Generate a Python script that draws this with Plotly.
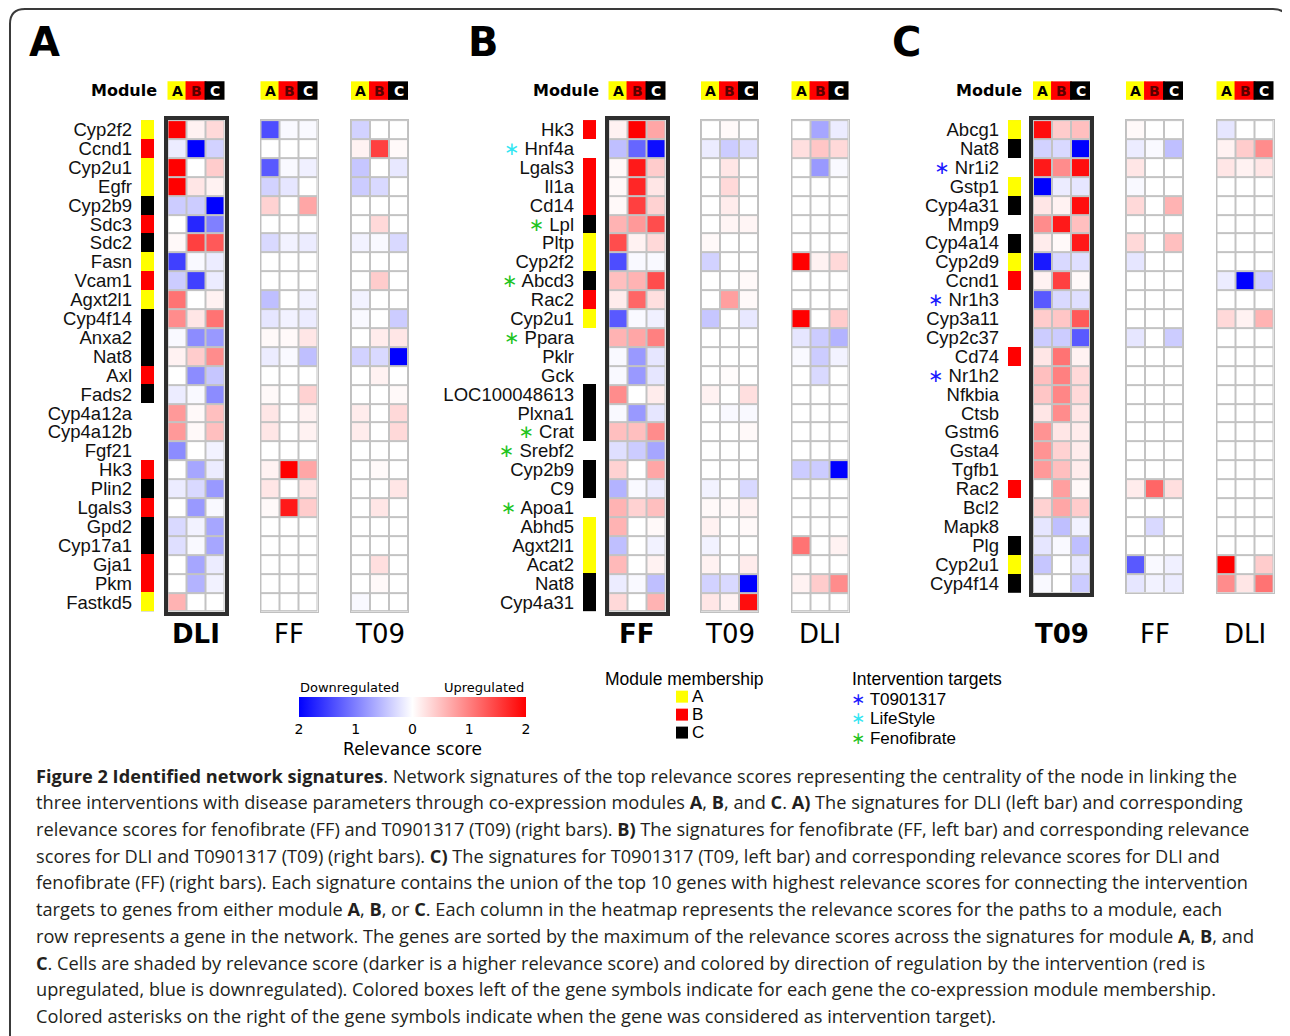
import plotly.graph_objects as go

# page body has an 8px margin; the figure is sized/shifted to compensate
OFF = 8
W, H = 1282, 1028
def px(x): return (x - OFF) / W
def py(y): return 1 - (y - OFF) / H

COLS = ['A', 'B', 'C']

genes_A = ['Cyp2f2', 'Ccnd1', 'Cyp2u1', 'Egfr', 'Cyp2b9', 'Sdc3', 'Sdc2', 'Fasn', 'Vcam1', 'Agxt2l1',
           'Cyp4f14', 'Anxa2', 'Nat8', 'Axl', 'Fads2', 'Cyp4a12a', 'Cyp4a12b', 'Fgf21', 'Hk3', 'Plin2',
           'Lgals3', 'Gpd2', 'Cyp17a1', 'Gja1', 'Pkm', 'Fastkd5']
genes_B = ['Hk3', 'Hnf4a', 'Lgals3', 'Il1a', 'Cd14', 'Lpl', 'Pltp', 'Cyp2f2', 'Abcd3', 'Rac2',
           'Cyp2u1', 'Ppara', 'Pklr', 'Gck', 'LOC100048613', 'Plxna1', 'Crat', 'Srebf2', 'Cyp2b9', 'C9',
           'Apoa1', 'Abhd5', 'Agxt2l1', 'Acat2', 'Nat8', 'Cyp4a31']
genes_C = ['Abcg1', 'Nat8', 'Nr1i2', 'Gstp1', 'Cyp4a31', 'Mmp9', 'Cyp4a14', 'Cyp2d9', 'Ccnd1', 'Nr1h3',
           'Cyp3a11', 'Cyp2c37', 'Cd74', 'Nr1h2', 'Nfkbia', 'Ctsb', 'Gstm6', 'Gsta4', 'Tgfb1', 'Rac2',
           'Bcl2', 'Mapk8', 'Plg', 'Cyp2u1', 'Cyp4f14']

module_of = {
    'Cyp2f2': 'A', 'Ccnd1': 'B', 'Cyp2u1': 'A', 'Egfr': 'A', 'Cyp2b9': 'C', 'Sdc3': 'B', 'Sdc2': 'C',
    'Fasn': 'A', 'Vcam1': 'B', 'Agxt2l1': 'A', 'Cyp4f14': 'C', 'Anxa2': 'C', 'Nat8': 'C', 'Axl': 'B',
    'Fads2': 'C', 'Hk3': 'B', 'Plin2': 'C', 'Lgals3': 'B', 'Gpd2': 'C', 'Cyp17a1': 'C', 'Gja1': 'B',
    'Pkm': 'B', 'Fastkd5': 'A', 'Il1a': 'B', 'Cd14': 'B', 'Lpl': 'C', 'Pltp': 'A', 'Abcd3': 'C',
    'Rac2': 'B', 'LOC100048613': 'C', 'Plxna1': 'C', 'Crat': 'C', 'C9': 'C', 'Abhd5': 'A',
    'Acat2': 'A', 'Cyp4a31': 'C', 'Abcg1': 'A', 'Gstp1': 'A', 'Cyp4a14': 'C', 'Cyp2d9': 'A',
    'Cd74': 'B', 'Plg': 'C',
}

target_of = {
    'Hnf4a': 'LifeStyle', 'Lpl': 'Fenofibrate', 'Abcd3': 'Fenofibrate', 'Ppara': 'Fenofibrate',
    'Crat': 'Fenofibrate', 'Srebf2': 'Fenofibrate', 'Apoa1': 'Fenofibrate',
    'Nr1i2': 'T0901317', 'Nr1h3': 'T0901317', 'Nr1h2': 'T0901317',
}

# relevance scores (signed: + upregulated, - downregulated) for modules A, B, C
DLI = {
    'Cyp2f2': (2, 0.1, 0.3), 'Ccnd1': (-0.15, -2, -0.35), 'Cyp2u1': (2, 0, 0.4), 'Egfr': (2, 0.2, 0.1),
    'Cyp2b9': (-0.4, -0.4, -2), 'Sdc3': (0, -1.7, -1.0), 'Sdc2': (0.05, 1.5, 1.3), 'Fasn': (-1.5, -0.05, -0.15),
    'Vcam1': (-0.4, -1.5, -0.15), 'Agxt2l1': (1.1, 0, 0.1), 'Cyp4f14': (0.9, 0.2, 1.1), 'Anxa2': (-0.05, -0.9, -0.8),
    'Nat8': (0.1, 0.4, 0.9), 'Axl': (0, -0.9, -0.45), 'Fads2': (-0.15, -0.05, -0.9), 'Cyp4a12a': (0.8, 0.05, 0.5),
    'Cyp4a12b': (0.8, 0.05, 0.5), 'Fgf21': (-0.9, 0, -0.1), 'Hk3': (0, -0.7, -0.15), 'Plin2': (-0.15, -0.3, -0.8),
    'Lgals3': (0, -0.8, -0.05), 'Gpd2': (-0.3, -0.1, -0.7), 'Cyp17a1': (-0.25, -0.05, -0.7), 'Gja1': (0, -0.7, -0.15),
    'Pkm': (0, -0.6, -0.1), 'Fastkd5': (0.6, 0, 0), 'Hnf4a': (0.25, 0.45, 0.3), 'Il1a': (0, 0, 0), 'Cd14': (0, 0, 0),
    'Lpl': (0, 0, 0), 'Pltp': (0, 0, 0), 'Abcd3': (0, 0, 0), 'Rac2': (0, 0, 0), 'Ppara': (-0.2, -0.4, -0.6),
    'Pklr': (-0.05, -0.4, -0.1), 'Gck': (0, -0.3, 0), 'LOC100048613': (0, 0, 0), 'Plxna1': (0, 0, 0), 'Crat': (0, 0, 0),
    'Srebf2': (0, 0, 0), 'C9': (0, 0, 0), 'Apoa1': (0, 0, 0), 'Abhd5': (0, 0, 0), 'Acat2': (0, 0, 0),
    'Cyp4a31': (0, 0, 0), 'Abcg1': (-0.2, 0, 0), 'Nr1i2': (0.2, 0.1, 0.2), 'Gstp1': (0, 0, 0), 'Mmp9': (0, 0, 0),
    'Cyp4a14': (0, 0, 0), 'Cyp2d9': (0, 0, 0), 'Nr1h3': (0, 0, 0), 'Cyp3a11': (0.3, 0.1, 0.6), 'Cyp2c37': (0, 0, 0),
    'Cd74': (0, 0, 0), 'Nr1h2': (0, 0, 0), 'Nfkbia': (0, 0, 0), 'Ctsb': (0, 0, 0), 'Gstm6': (0, 0, 0),
    'Gsta4': (0, 0, 0), 'Tgfb1': (0, 0, 0), 'Bcl2': (0, 0, 0), 'Mapk8': (0, 0, 0), 'Plg': (0, 0, 0),
}
FF = {
    'Cyp2f2': (-1.4, -0.05, -0.05), 'Ccnd1': (0, 0, 0), 'Cyp2u1': (-1.3, -0.05, -0.12), 'Egfr': (-0.35, -0.2, 0),
    'Cyp2b9': (0.35, 0, 0.7), 'Sdc3': (0, 0, 0), 'Sdc2': (-0.3, -0.1, -0.15), 'Fasn': (0, 0, 0), 'Vcam1': (0, 0, 0),
    'Agxt2l1': (-0.5, 0, -0.1), 'Cyp4f14': (-0.2, -0.1, -0.15), 'Anxa2': (0.05, 0.05, 0.2), 'Nat8': (-0.15, -0.05, -0.5),
    'Axl': (0, 0, 0), 'Fads2': (0.05, 0, 0.35), 'Cyp4a12a': (0.2, 0, 0.1), 'Cyp4a12b': (0.2, 0, 0.1), 'Fgf21': (0, 0, 0),
    'Hk3': (0.1, 2, 0.7), 'Plin2': (0.2, 0, 0.2), 'Lgals3': (0.05, 1.8, 0.4), 'Gpd2': (0, 0, 0), 'Cyp17a1': (0, 0, 0),
    'Gja1': (0, 0, 0), 'Pkm': (0, 0, 0), 'Fastkd5': (0, 0, 0), 'Hnf4a': (-0.5, -1.2, -1.9), 'Il1a': (0.05, 1.7, 0.2),
    'Cd14': (0.05, 1.5, 0.35), 'Lpl': (0.6, 0.8, 1.4), 'Pltp': (1.4, 0.1, 0.3), 'Abcd3': (0.5, 0.6, 1.4),
    'Rac2': (0.15, 1.2, 0.25), 'Ppara': (0.6, 0.7, 1.0), 'Pklr': (-0.05, -0.8, -0.2), 'Gck': (-0.05, -0.8, -0.2),
    'LOC100048613': (0.9, 0, 0.15), 'Plxna1': (-0.05, -0.8, -0.2), 'Crat': (0.5, 0.5, 0.9), 'Srebf2': (-0.25, -0.4, -0.7),
    'C9': (-0.6, -0.05, -0.15), 'Apoa1': (0.6, 0.35, 0.5), 'Abhd5': (0.6, 0, 0.05), 'Acat2': (0.55, 0, 0.1),
    'Cyp4a31': (0.3, 0, 0.6), 'Abcg1': (0.05, 0, 0), 'Nr1i2': (0.2, 0, 0), 'Gstp1': (-0.05, 0, 0), 'Mmp9': (0, 0, 0),
    'Cyp4a14': (0.3, 0, 0.5), 'Cyp2d9': (-0.2, 0, 0), 'Nr1h3': (0, 0, 0), 'Cyp3a11': (0, 0, 0),
    'Cyp2c37': (-0.2, 0, -0.4), 'Cd74': (0, 0, 0), 'Nr1h2': (0, 0, 0), 'Nfkbia': (0, 0, 0), 'Ctsb': (0, 0, 0),
    'Gstm6': (0, 0, 0), 'Gsta4': (0, 0, 0), 'Tgfb1': (0, 0, 0), 'Bcl2': (0, 0, 0), 'Mapk8': (0, -0.3, 0), 'Plg': (0, 0, 0),
}
T09 = {
    'Cyp2f2': (-0.35, 0, 0), 'Ccnd1': (0.1, 1.5, 0.05), 'Cyp2u1': (-0.45, 0, -0.18), 'Egfr': (-0.4, -0.3, 0),
    'Cyp2b9': (0, 0, 0), 'Sdc3': (0, 0.3, 0), 'Sdc2': (-0.1, -0.05, -0.3), 'Fasn': (0, 0, 0), 'Vcam1': (0, 0.4, 0),
    'Agxt2l1': (-0.1, 0, 0), 'Cyp4f14': (-0.05, 0, -0.4), 'Anxa2': (0, 0.15, 0.2), 'Nat8': (-0.35, -0.3, -2),
    'Axl': (0, 0.1, 0), 'Fads2': (0, 0, 0.05), 'Cyp4a12a': (0.15, 0, 0.3), 'Cyp4a12b': (0.15, 0, 0.3),
    'Fgf21': (0, 0, 0), 'Hk3': (0, 0.05, 0), 'Plin2': (0, 0, 0.2), 'Lgals3': (0, 0.2, 0), 'Gpd2': (0, 0, 0),
    'Cyp17a1': (0, 0, 0), 'Gja1': (0, 0.25, 0), 'Pkm': (0, 0.05, 0), 'Fastkd5': (-0.05, 0, 0),
    'Hnf4a': (-0.15, -0.4, -0.25), 'Il1a': (0, 0.3, 0), 'Cd14': (0, 0.15, 0), 'Lpl': (0, 0.08, 0.08),
    'Pltp': (0.05, 0, 0), 'Abcd3': (0, 0, 0.05), 'Rac2': (0, 0.75, 0.05), 'Ppara': (0, 0, 0), 'Pklr': (0, 0, 0),
    'Gck': (0, 0.02, 0), 'LOC100048613': (0.1, 0, 0.25), 'Plxna1': (0, -0.05, -0.05), 'Crat': (0, 0, 0.05),
    'Srebf2': (0, 0, 0), 'C9': (-0.1, 0, -0.3), 'Apoa1': (0.05, 0.05, 0.1), 'Abhd5': (0.1, 0, 0.05),
    'Acat2': (0.1, 0, 0.15), 'Cyp4a31': (0.2, 0.1, 1.9), 'Abcg1': (1.9, 0.4, 0.5), 'Nr1i2': (1.8, 0.9, 1.9),
    'Gstp1': (-2, -0.15, -0.2), 'Mmp9': (0.9, 1.8, 0.5), 'Cyp4a14': (0.15, 0.05, 1.8), 'Cyp2d9': (-1.8, -0.3, -0.25),
    'Nr1h3': (-1.3, -0.3, -0.25), 'Cyp3a11': (0.4, 0.45, 1.3), 'Cyp2c37': (-0.4, -0.4, -1.3), 'Cd74': (0.2, 1.1, 0.1),
    'Nr1h2': (0.5, 1.0, 0.3), 'Nfkbia': (0.45, 0.95, 0.3), 'Ctsb': (0.2, 0.9, 0.2), 'Gstm6': (0.85, 0.2, 0.15),
    'Gsta4': (0.85, 0.35, 0.15), 'Tgfb1': (0.8, 0.5, 0.15), 'Bcl2': (0.35, 0.7, 0.4), 'Mapk8': (-0.2, -0.5, -0.1),
    'Plg': (-0.2, -0.05, -0.5),
}

colorbar_ticks = [-2, -1, 0, 1, 2]
colorbar_ticktext = ['2', '1', '0', '1', '2']

caption_lines = [
    "<b>Figure 2 Identified network signatures</b>. Network signatures of the top relevance scores representing the centrality of the node in linking the",
    "three interventions with disease parameters through co-expression modules <b>A</b>, <b>B</b>, and <b>C</b>. <b>A)</b> The signatures for DLI (left bar) and corresponding",
    "relevance scores for fenofibrate (FF) and T0901317 (T09) (right bars). <b>B)</b> The signatures for fenofibrate (FF, left bar) and corresponding relevance",
    "scores for DLI and T0901317 (T09) (right bars). <b>C)</b> The signatures for T0901317 (T09, left bar) and corresponding relevance scores for DLI and",
    "fenofibrate (FF) (right bars). Each signature contains the union of the top 10 genes with highest relevance scores for connecting the intervention",
    "targets to genes from either module <b>A</b>, <b>B</b>, or <b>C</b>. Each column in the heatmap represents the relevance scores for the paths to a module, each",
    "row represents a gene in the network. The genes are sorted by the maximum of the relevance scores across the signatures for module <b>A</b>, <b>B</b>, and",
    "<b>C</b>. Cells are shaded by relevance score (darker is a higher relevance score) and colored by direction of regulation by the intervention (red is",
    "upregulated, blue is downregulated). Colored boxes left of the gene symbols indicate for each gene the co-expression module membership.",
    "Colored asterisks on the right of the gene symbols indicate when the gene was considered as intervention target).",
]

# ---------------- styling / layout ----------------
MOD_COLOR = {'A': '#ffff00', 'B': '#ff0000', 'C': '#000000'}
MOD_CODE = {'': 0, 'A': 1, 'B': 2, 'C': 3}
TARGET_COLOR = {'T0901317': '#1a1aff', 'LifeStyle': '#33e6f2', 'Fenofibrate': '#1fc41f'}
HEAT_CS = [[0, '#0000ff'], [0.5, '#ffffff'], [1, '#ff0000']]
MOD_CS = [[0, '#ffffff'], [0.25, '#ffffff'], [0.25, '#ffff00'], [0.5, '#ffff00'],
          [0.5, '#ff0000'], [0.75, '#ff0000'], [0.75, '#000000'], [1, '#000000']]

ROW_TOP = 119.3
ROW_H = 18.94
LABEL_FONT = dict(family='Liberation Sans, Arial', size=18.5, color='#111')
STAR = "<span style='color:%s;font-family:DejaVu Sans'>\u2217</span>"

panels = [
    dict(letter='A', letter_x=27, genes=genes_A, bar=(141, 154), module_right=159,
         heats=[('DLI', DLI, (167.5, 224.5)), ('FF', FF, (260.5, 317.5)), ('T09', T09, (351, 408))]),
    dict(letter='B', letter_x=466, genes=genes_B, bar=(583, 596), module_right=601,
         heats=[('FF', FF, (608.5, 665.5)), ('T09', T09, (701, 758)), ('DLI', DLI, (791.5, 848.5))]),
    dict(letter='C', letter_x=890, genes=genes_C, bar=(1008, 1021), module_right=1024,
         heats=[('T09', T09, (1033, 1090)), ('FF', FF, (1126, 1183)), ('DLI', DLI, (1216.5, 1273.5))]),
]

fig = go.Figure()
layout = {}
shapes = []
annotations = []

def label_for(g):
    t = target_of.get(g)
    if t:
        return (STAR % TARGET_COLOR[t]) + ' ' + g
    return g

k = 0
first_heat = True
for p in panels:
    genes = p['genes']
    n = len(genes)
    y0 = ROW_TOP
    y1 = ROW_TOP + n * ROW_H
    ydom = [py(y1), py(y0)]
    # module membership bar
    k += 1
    xa = 'x' if k == 1 else 'x%d' % k
    ya = 'y' if k == 1 else 'y%d' % k
    fig.add_trace(go.Heatmap(
        z=[[MOD_CODE[module_of.get(g, '')]] for g in genes], x=['m'], y=genes,
        colorscale=MOD_CS, zmin=-0.5, zmax=3.5, showscale=False, hoverinfo='skip',
        xaxis=xa, yaxis=ya))
    layout['xaxis' if k == 1 else 'xaxis%d' % k] = dict(
        domain=[px(p['bar'][0]), px(p['bar'][1])], anchor=ya, showticklabels=False,
        showgrid=False, zeroline=False, showline=False, fixedrange=True)
    layout['yaxis' if k == 1 else 'yaxis%d' % k] = dict(
        domain=ydom, anchor=xa, range=[n - 0.5, -0.5], tickmode='array', tickvals=genes,
        ticktext=[label_for(g) for g in genes], ticks='', ticklen=0, ticklabelstandoff=8,
        tickfont=LABEL_FONT, showgrid=False, zeroline=False, showline=False, fixedrange=True)

    # "Module" header
    annotations.append(dict(text='<b>Module</b>', x=px(p['module_right']), y=py(90), xref='paper', yref='paper',
                            xanchor='right', yanchor='middle', showarrow=False,
                            font=dict(family='DejaVu Sans', size=16, color='#000')))
    # panel letter
    annotations.append(dict(text='<b>%s</b>' % p['letter'], x=px(p['letter_x']), y=py(41), xref='paper',
                            yref='paper', xanchor='left', yanchor='middle', showarrow=False,
                            font=dict(family='DejaVu Sans', size=40, color='#000')))

    for i, (name, data, (xl, xr)) in enumerate(p['heats']):
        k += 1
        xa = 'x%d' % k
        ya = 'y%d' % k
        bold = (i == 0)
        fig.add_trace(go.Heatmap(
            z=[list(data[g]) for g in genes], x=COLS, y=genes, colorscale=HEAT_CS, zmin=-2, zmax=2,
            xgap=2, ygap=2, showscale=first_heat, hoverinfo='skip', xaxis=xa, yaxis=ya,
            colorbar=dict(orientation='h', x=px(412.5), xanchor='center', y=py(697), yanchor='top',
                          len=227, lenmode='pixels', thickness=20, thicknessmode='pixels',
                          xpad=0, ypad=0, outlinewidth=0, tickmode='array', tickvals=colorbar_ticks,
                          ticktext=colorbar_ticktext, ticks='', ticklen=0,
                          tickfont=dict(family='DejaVu Sans', size=14, color='#000'),
                          title=dict(text='Relevance score', side='bottom',
                                     font=dict(family='DejaVu Sans', size=17, color='#000')))))
        first_heat = False
        lc = '#2e2e2e' if bold else '#c0c0c0'
        lw = 3.5 if bold else 1.2
        layout['xaxis%d' % k] = dict(domain=[px(xl), px(xr)], anchor=ya, type='category',
                                     range=[-0.5, 2.5], showticklabels=False, ticks='', showgrid=False,
                                     zeroline=False, showline=True, mirror=True, linecolor=lc,
                                     linewidth=lw, fixedrange=True)
        layout['yaxis%d' % k] = dict(domain=ydom, anchor=xa, type='category', range=[n - 0.5, -0.5],
                                     showticklabels=False, ticks='', showgrid=False, zeroline=False,
                                     showline=True, mirror=True, linecolor=lc, linewidth=lw,
                                     fixedrange=True)
        # module header boxes
        for j, c in enumerate(COLS):
            shapes.append(dict(type='rect', xref=xa, yref='paper', x0=j - 0.55, x1=j + 0.55,
                               y0=py(99), y1=py(80.5), fillcolor=MOD_COLOR[c], line=dict(width=0),
                               layer='above'))
            tc = {'A': '#000', 'B': '#5a0000', 'C': '#fff'}[c]
            annotations.append(dict(text='<b>%s</b>' % c, x=c, y=py(90), xref=xa, yref='paper',
                                    xanchor='center', yanchor='middle', showarrow=False,
                                    font=dict(family='DejaVu Sans', size=14, color=tc)))
        # intervention name below
        annotations.append(dict(text=('<b>%s</b>' % name) if bold else name, x=1, y=py(634), xref=xa,
                                yref='paper', xanchor='center', yanchor='middle', showarrow=False,
                                font=dict(family='DejaVu Sans', size=26, color='#000')))

# ---------------- legends ----------------
annotations.append(dict(text='Downregulated', x=px(298), y=py(688), xref='paper', yref='paper', xanchor='left',
                        yanchor='middle', showarrow=False, font=dict(family='DejaVu Sans', size=13, color='#000')))
annotations.append(dict(text='Upregulated', x=px(526), y=py(688), xref='paper', yref='paper', xanchor='right',
                        yanchor='middle', showarrow=False, font=dict(family='DejaVu Sans', size=13, color='#000')))

annotations.append(dict(text='Module membership', x=px(603), y=py(679), xref='paper', yref='paper',
                        xanchor='left', yanchor='middle', showarrow=False,
                        font=dict(family='Liberation Sans, Arial', size=17.5, color='#000')))
for i, c in enumerate(COLS):
    yc = 697 + 18 * i
    shapes.append(dict(type='rect', xref='paper', yref='paper', x0=px(676), x1=px(688), y0=py(yc + 6),
                       y1=py(yc - 6), fillcolor=MOD_COLOR[c], line=dict(width=0)))
    annotations.append(dict(text=c, x=px(690), y=py(yc), xref='paper', yref='paper', xanchor='left',
                            yanchor='middle', showarrow=False,
                            font=dict(family='Liberation Sans, Arial', size=17, color='#000')))

annotations.append(dict(text='Intervention targets', x=px(850), y=py(679), xref='paper', yref='paper',
                        xanchor='left', yanchor='middle', showarrow=False,
                        font=dict(family='Liberation Sans, Arial', size=17.5, color='#000')))
for i, t in enumerate(['T0901317', 'LifeStyle', 'Fenofibrate']):
    yc = 699 + 19.5 * i
    annotations.append(dict(text=(STAR % TARGET_COLOR[t]) + ' ' + t,
                            x=px(849), y=py(yc), xref='paper', yref='paper', xanchor='left', yanchor='middle',
                            showarrow=False, font=dict(family='Liberation Sans, Arial', size=17, color='#000')))

# ---------------- caption ----------------
for i, line in enumerate(caption_lines):
    annotations.append(dict(text=line, x=px(34), y=py(776 + 26.8 * i), xref='paper', yref='paper',
                            xanchor='left', yanchor='middle', showarrow=False, align='left',
                            font=dict(family='Open Sans', size=18.2, color='#231f20')))

# ---------------- frame ----------------
r = 15
frame = 'M %f,%f L %f,%f Q %f,%f %f,%f L %f,%f Q %f,%f %f,%f L %f,%f' % (
    px(10), py(1045), px(10), py(8 + r), px(10), py(8), px(10 + r), py(8), px(1288 - r), py(8),
    px(1288), py(8), px(1288), py(8 + r), px(1288), py(1045))
shapes.append(dict(type='path', path=frame, xref='paper', yref='paper', line=dict(color='#3a3a3a', width=2)))

fig.update_layout(width=W, height=H, autosize=False, margin=dict(l=0, r=0, t=0, b=0),
                  paper_bgcolor='white', plot_bgcolor='#c3c3c3', showlegend=False,
                  shapes=shapes, annotations=annotations, **layout)

fig.write_html('out.html')
